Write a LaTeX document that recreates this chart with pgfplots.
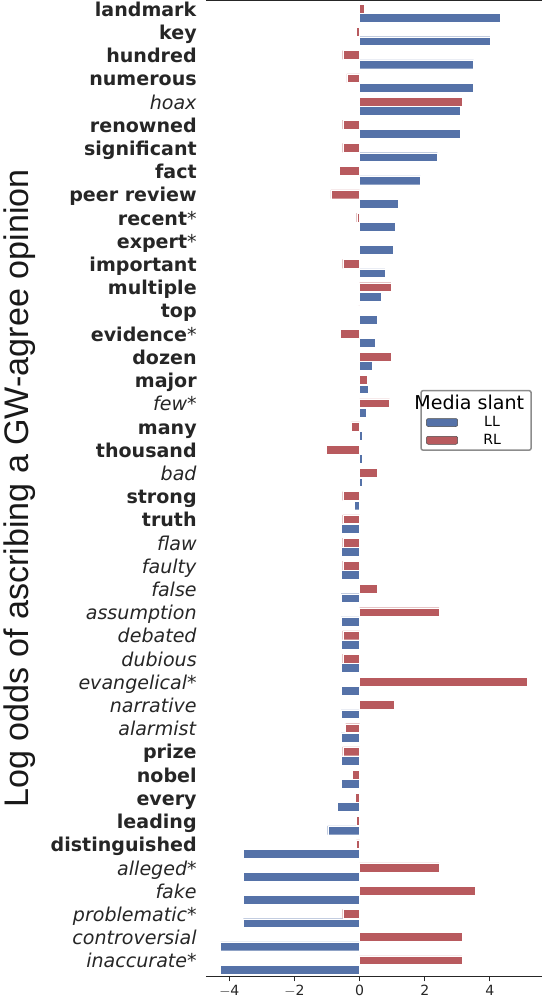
\documentclass[border=0pt]{standalone}
\usepackage{pgfplots}
\pgfplotsset{compat=1.18}
\usepackage{fontspec}
\setmainfont{DejaVu Sans}
\newfontfamily\arial{Liberation Sans}
\definecolor{cLL}{HTML}{5572A8}
\definecolor{cRL}{HTML}{B85A5E}
\begin{document}
\begin{tikzpicture}
\begin{axis}[
  scale only axis, width=335pt, height=973pt,
  xbar, bar width=0.38, y dir=reverse,
  xmin=-4.72, xmax=5.6, ymin=-0.55, ymax=41.5,
  separate axis lines,
  y axis line style={draw=none},
  x axis line style={draw=black!85, line width=0.9pt},
  xtick={-4,-2,0,2,4}, xtick pos=bottom, xtick align=outside,
  major tick length=5pt, x tick style={black!85, line width=0.8pt},
  ytick={0,...,41}, ytick style={draw=none},
  tick label style={font=\fontsize{14}{16}\selectfont, text=black!85},
  xticklabels={$-$4,$-$2,0,2,4},
  yticklabel style={font=\fontsize{19}{22}\selectfont, text=black!85, text height=1.45ex, text depth=0.35ex, inner sep=4pt},
  yticklabels={\textbf{landmark},\textbf{key},\textbf{hundred},\textbf{numerous},\textit{hoax},\textbf{renowned},\textbf{significant},\textbf{fact},\textbf{peer review},\textbf{recent}*,\textbf{expert}*,\textbf{important},\textbf{multiple},\textbf{top},\textbf{evidence}*,\textbf{dozen},\textbf{major},\textit{few*},\textbf{many},\textbf{thousand},\textit{bad},\textbf{strong},\textbf{truth},\textit{flaw},\textit{faulty},\textit{false},\textit{assumption},\textit{debated},\textit{dubious},\textit{evangelical*},\textit{narrative},\textit{alarmist},\textbf{prize},\textbf{nobel},\textbf{every},\textbf{leading},\textbf{distinguished},\textit{alleged*},\textit{fake},\textit{problematic*},\textit{controversial},\textit{inaccurate*}},
  ylabel={\arial Log odds of ascribing a GW-agree opinion},
  ylabel style={font=\fontsize{34}{38}\selectfont, text=black!90, yshift=8pt},
  legend style={at={(0.97,0.601)}, anchor=north east, draw=black!45, line width=1.5pt, rounded corners=2pt, font=\fontsize{14}{16}\selectfont, row sep=2pt, inner xsep=5pt},
  legend image code/.code={\draw[#1, draw=black!70, line width=0.5pt] (0cm,-0.14cm) rectangle (1.1cm,0.14cm);},
]
\addlegendimage{empty legend}
\addlegendentry{\hspace{-1.6cm}\fontsize{19}{21}\selectfont Media slant}
\addplot[fill=cLL, draw=white, line width=0.3pt, bar shift=0.2] coordinates {
(4.33,0)(4.0,1)(3.5,2)(3.5,3)(3.09,4)(3.09,5)(2.39,6)(1.87,7)(1.18,8)(1.08,9)(1.04,10)(0.78,11)(0.65,12)(0.55,13)(0.49,14)(0.38,15)(0.26,16)(0.2,17)(0.09,18)(0.09,19)(0.07,20)(-0.17,21)(-0.57,22)(-0.57,23)(-0.57,24)(-0.57,25)(-0.57,26)(-0.57,27)(-0.57,28)(-0.57,29)(-0.57,30)(-0.57,31)(-0.57,32)(-0.57,33)(-0.69,34)(-0.98,35)(-3.57,36)(-3.57,37)(-3.57,38)(-3.57,39)(-4.27,40)(-4.27,41)};
\addlegendentry{LL}
\addplot[fill=cRL, draw=white, line width=0.3pt, bar shift=-0.2] coordinates {
(0.14,0)(-0.1,1)(-0.52,2)(-0.39,3)(3.14,4)(-0.52,5)(-0.52,6)(-0.62,7)(-0.88,8)(-0.09,9)(-0.03,10)(-0.52,11)(0.96,12)(-0.03,13)(-0.59,14)(0.96,15)(0.22,16)(0.92,17)(-0.25,18)(-1.02,19)(0.55,20)(-0.52,21)(-0.52,22)(-0.52,23)(-0.52,24)(0.55,25)(2.44,26)(-0.52,27)(-0.52,28)(5.15,29)(1.05,30)(-0.43,31)(-0.52,32)(-0.23,33)(-0.14,34)(-0.1,35)(-0.1,36)(2.44,37)(3.54,38)(-0.52,39)(3.14,40)(3.14,41)};
\addlegendentry{RL}
\end{axis}
\end{tikzpicture}
\end{document}
